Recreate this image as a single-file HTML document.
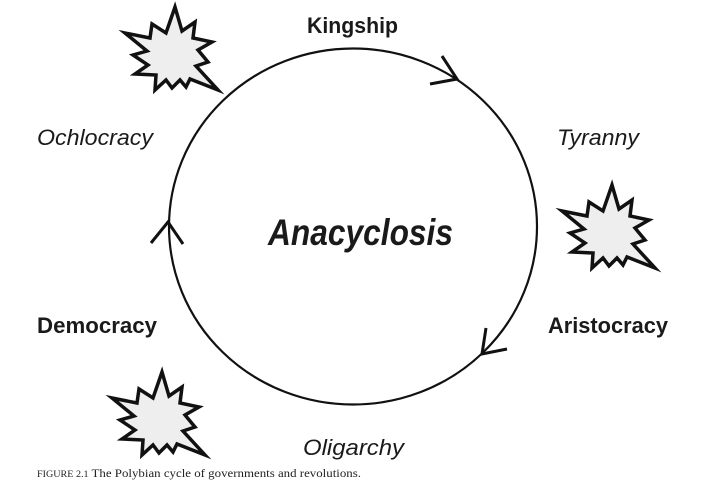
<!DOCTYPE html>
<html><head><meta charset="utf-8"><style>
html,body{margin:0;padding:0;background:#fff;}
svg{display:block;}
.s{font-family:"Liberation Sans","DejaVu Sans",sans-serif;fill:#1a1a1a;}
</style></head><body>
<svg width="720" height="490" viewBox="0 0 720 490" xmlns="http://www.w3.org/2000/svg">
<defs>
<polygon id="star" fill="#eeeeee" stroke="#111" stroke-width="3.5" stroke-linejoin="miter" stroke-miterlimit="20" points="175,7 182,31 195,22 193,38 212,42 198,50 208,62 196,66 218,90 190,79 186,87 180,80 172,88 166,80 155,90 156,75 135,74 148,65 133,55 147,51 125,33 150,38 152,24 166,33"/>
</defs>
<use href="#star"/>
<use href="#star" transform="translate(-13,365)"/>
<use href="#star" transform="translate(437,178)"/>
<ellipse cx="353" cy="226.5" rx="184" ry="178" fill="none" stroke="#111" stroke-width="2.2"/>
<g fill="none" stroke="#111" stroke-width="3" stroke-linecap="butt">
<polyline points="442,56 457,79 430,84"/>
<polyline points="151,243 168,222 183,244"/>
<polyline points="486,328 482,354 507,349"/>
</g>
<text class="s" x="307" y="33" font-size="22" font-weight="bold" textLength="91" lengthAdjust="spacingAndGlyphs">Kingship</text>
<text class="s" x="37" y="145" font-size="22" font-style="italic" textLength="116" lengthAdjust="spacingAndGlyphs">Ochlocracy</text>
<text class="s" x="557" y="145" font-size="22" font-style="italic" textLength="82" lengthAdjust="spacingAndGlyphs">Tyranny</text>
<text class="s" x="268" y="245" font-size="37" font-weight="bold" font-style="italic" textLength="185" lengthAdjust="spacingAndGlyphs">Anacyclosis</text>
<text class="s" x="37" y="333" font-size="22" font-weight="bold" textLength="120" lengthAdjust="spacingAndGlyphs">Democracy</text>
<text class="s" x="548" y="333" font-size="22" font-weight="bold" textLength="120" lengthAdjust="spacingAndGlyphs">Aristocracy</text>
<text class="s" x="303" y="455" font-size="22" font-style="italic" textLength="101" lengthAdjust="spacingAndGlyphs">Oligarchy</text>
<text x="37" y="477" font-family="Liberation Serif, serif" font-size="11.5" fill="#222" textLength="324" lengthAdjust="spacingAndGlyphs"><tspan font-size="9">FIGURE 2.1</tspan> The Polybian cycle of governments and revolutions.</text>
</svg>
</body></html>
